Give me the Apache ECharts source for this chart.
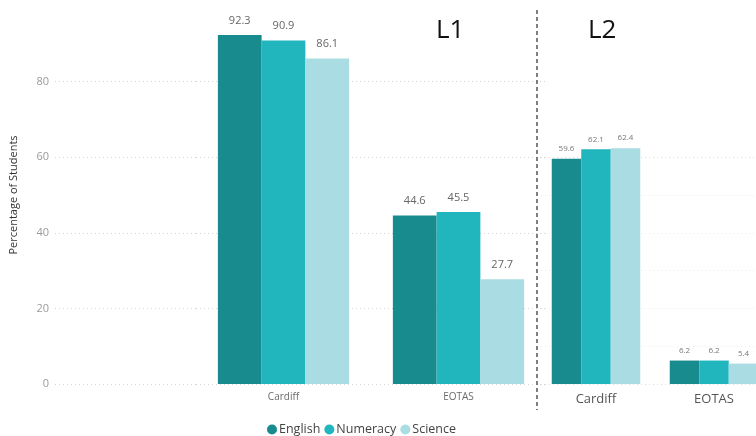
<!DOCTYPE html>
<html>
<head>
<meta charset="utf-8">
<script src="https://cdn.jsdelivr.net/npm/echarts@6/dist/echarts.min.js"></script>
<style>
  html, body { margin: 0; padding: 0; background: #fff; }
  #chart { width: 756px; height: 436px; }
</style>
</head>
<body>
<div id="chart"></div>
<script>
// Attainment by group, two levels side by side
const subjects = ['English', 'Numeracy', 'Science'];
const groups = ['Cardiff', 'EOTAS'];

const l1English = [92.3, 44.6];
const l1Numeracy = [90.9, 45.5];
const l1Science = [86.1, 27.7];

const l2English = [59.6, 6.2];
const l2Numeracy = [62.1, 6.2];
const l2Science = [62.4, 5.4];

const yTicks = [0, 20, 40, 60, 80];

const colors = ['#188b8f', '#21b5be', '#a9dde3'];
const font = '"Open Sans", "Noto Sans", sans-serif';

const chart = echarts.init(document.getElementById('chart'), null, { renderer: 'canvas' });

const gridTop = 6, gridHeight = 378;
const grey = '#d4d4d4';
const clear = 'rgba(0,0,0,0)';

function barSeries(name, data, xi, color, labelSize, labelColor, dist) {
  return {
    name: name, type: 'bar', xAxisIndex: xi, yAxisIndex: xi,
    data: data, barGap: '0%', barCategoryGap: '25%',
    itemStyle: { color: color },
    label: {
      show: true, position: 'top', distance: dist,
      fontFamily: font, fontSize: labelSize, color: labelColor,
      formatter: p => p.value.toFixed(1)
    }
  };
}

const option = {
  animation: false,
  color: colors,
  textStyle: { fontFamily: font },
  grid: [
    { left: 55, width: 141, top: gridTop, height: gridHeight, outerBoundsMode: 'none' },
    { left: 196, width: 350, top: gridTop, height: gridHeight, outerBoundsMode: 'none' },
    { left: 537, width: 236, top: gridTop, height: gridHeight, outerBoundsMode: 'none' }
  ],
  xAxis: [
    { gridIndex: 0, type: 'category', data: [''], show: false },
    {
      gridIndex: 1, type: 'category', data: groups,
      axisLine: { show: false }, axisTick: { show: false },
      axisLabel: { fontFamily: font, fontSize: 10, color: '#6b6b6b', margin: 8 }
    },
    {
      gridIndex: 2, type: 'category', data: groups,
      axisLine: { show: false }, axisTick: { show: false },
      axisLabel: { fontFamily: font, fontSize: 13, color: '#555', margin: 9 }
    }
  ],
  yAxis: [
    {
      gridIndex: 0, type: 'value', min: 0, max: 100, interval: 20,
      name: 'Percentage of Students', nameLocation: 'middle', nameGap: 36,
      nameTextStyle: { fontFamily: font, fontSize: 11, color: '#333' },
      axisLine: { show: false }, axisTick: { show: false },
      axisLabel: {
        fontFamily: font, fontSize: 11, color: '#9a9a9a', margin: 6,
        formatter: v => (yTicks.indexOf(v) >= 0 ? String(v) : '')
      },
      splitLine: { lineStyle: { type: [1, 3], width: 1, color: [grey, grey, grey, grey, grey, clear] } }
    },
    {
      gridIndex: 1, type: 'value', min: 0, max: 100, interval: 20,
      axisLine: { show: false }, axisTick: { show: false }, axisLabel: { show: false },
      splitLine: { lineStyle: { type: [1, 3], width: 1, color: [grey, grey, grey, grey, grey, clear] } }
    },
    {
      gridIndex: 2, type: 'value', min: 0, max: 100, interval: 10,
      axisLine: { show: false }, axisTick: { show: false }, axisLabel: { show: false },
      splitLine: {
        lineStyle: {
          type: [1, 3], width: 1,
          color: ['#e0e0e0', '#ececec', '#ececec', '#ececec', '#ececec', '#ececec', '#e0e0e0',
                  clear, clear, clear, clear]
        }
      }
    }
  ],
  legend: {
    data: subjects, left: 262, top: 418,
    icon: 'circle', itemWidth: 10, itemHeight: 10, itemGap: 4,
    textStyle: { fontFamily: font, fontSize: 12.5, color: '#444', padding: [0, 0, 0, -3] }
  },
  graphic: [
    {
      type: 'line', shape: { x1: 537, y1: 10, x2: 537, y2: 410 },
      style: { stroke: '#555', lineWidth: 1.5, lineDash: [4, 3] }, z: 10
    },
    {
      type: 'text', left: 436, top: 18,
      style: { text: 'L1', fontFamily: font, fontSize: 26, fill: '#111' }
    },
    {
      type: 'text', left: 588, top: 18,
      style: { text: 'L2', fontFamily: font, fontSize: 26, fill: '#111' }
    }
  ],
  series: [
    barSeries('English', l1English, 1, colors[0], 11, '#666', 9),
    barSeries('Numeracy', l1Numeracy, 1, colors[1], 11, '#666', 9),
    barSeries('Science', l1Science, 1, colors[2], 11, '#666', 9),
    barSeries('English', l2English, 2, colors[0], 8, '#777', 6),
    barSeries('Numeracy', l2Numeracy, 2, colors[1], 8, '#777', 6),
    barSeries('Science', l2Science, 2, colors[2], 8, '#777', 6)
  ]
};

chart.setOption(option);
</script>
</body>
</html>
